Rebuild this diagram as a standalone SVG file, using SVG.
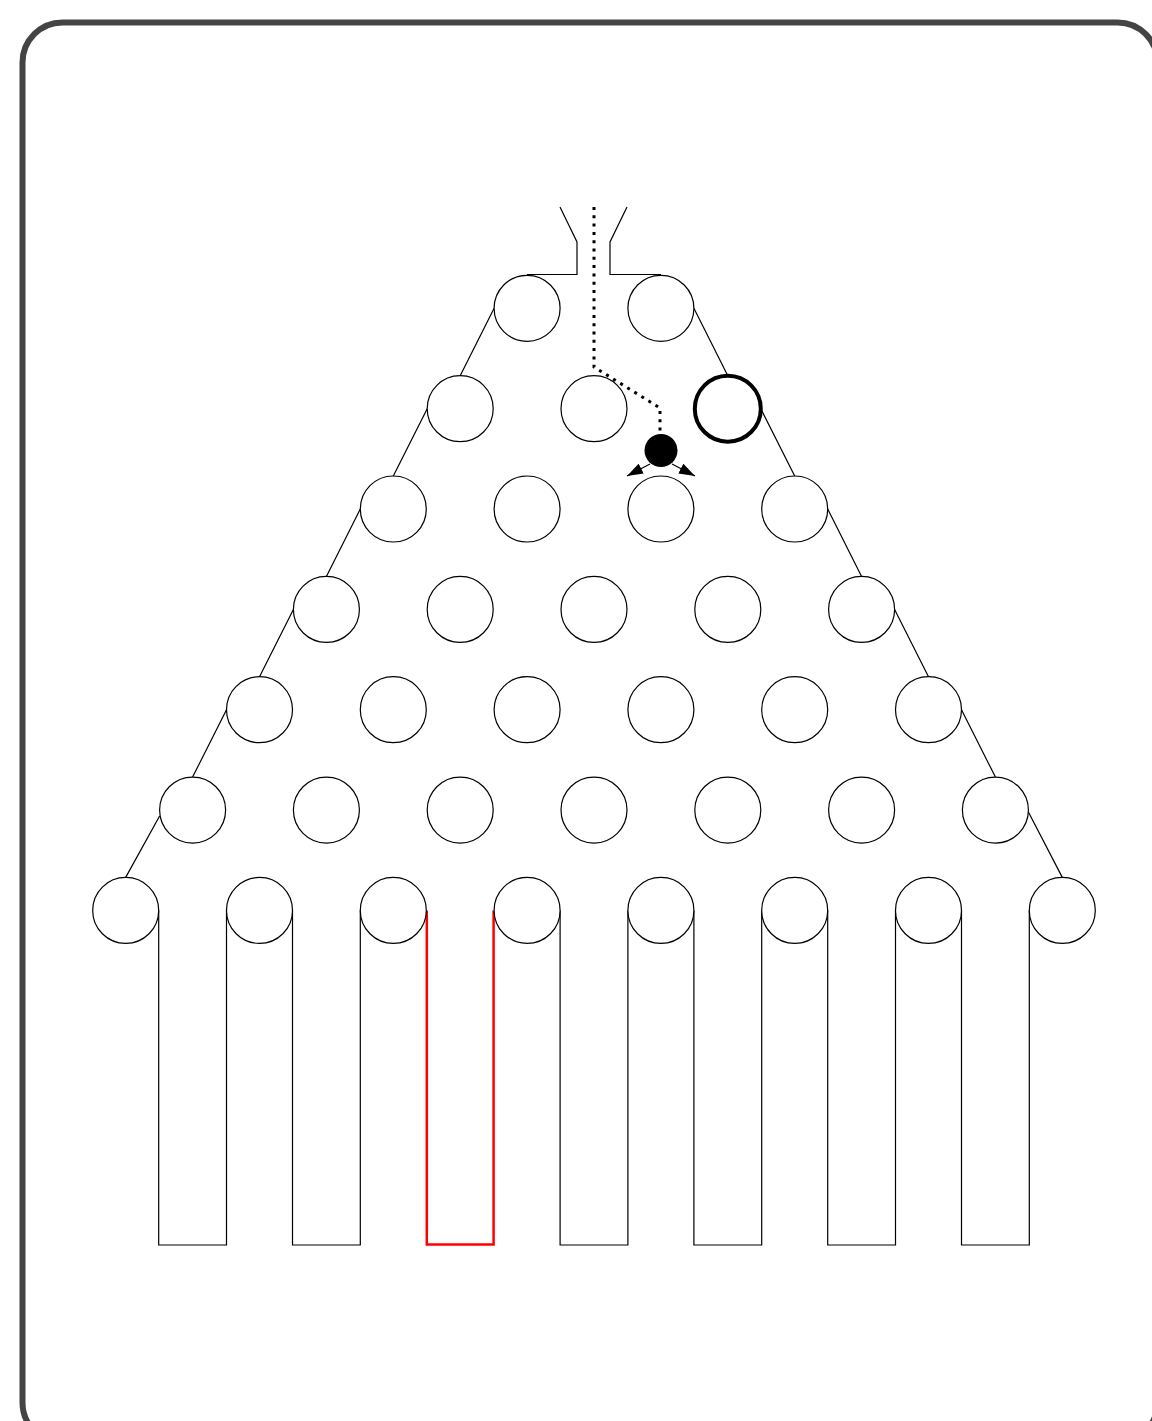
<svg xmlns="http://www.w3.org/2000/svg" width="1152" height="1421" viewBox="0 0 1152 1421">
<defs>
<style>
.peg{fill:#fff;stroke:#000;stroke-width:1.2}
.wall{fill:none;stroke:#000;stroke-width:1.2}
.bin{fill:none;stroke:#000;stroke-width:1.2}
.hi{fill:none;stroke:#f00;stroke-width:2.5}
</style>
<marker id="ah" viewBox="0 0 16 11" refX="16" refY="5.5" markerWidth="16" markerHeight="11" markerUnits="userSpaceOnUse" orient="auto">
<path d="M0,0 L16,5.5 L0,11 Z" fill="#000"/>
</marker>
</defs>
<rect x="0" y="0" width="1152" height="1421" fill="#fff"/>
<rect id="frame" x="22.5" y="22.5" width="1135" height="1420" rx="40" ry="40" fill="none" stroke="#444" stroke-width="6"/>
<g id="connectors">
<path class="wall" d="M560,207 L577,242 V274.5 H527"/>
<path class="wall" d="M627,207 L610,242 V274.5 H661"/>
<path class="wall" d="M494.1,308.3 L460.2,375.7 M427.2,408.7 L393.3,476 M360.3,509 L326.4,576.4 M293.4,609.4 L259.5,676.7 M226.5,709.7 L192.6,777.1 M159.6,816 L125.7,877.4"/>
<path class="wall" d="M693.9,308.3 L727.8,375.7 M760.8,408.7 L794.7,476 M827.7,509 L861.6,576.4 M894.6,609.4 L928.5,676.7 M961.5,709.7 L995.4,777.1 M1028.4,812 L1062.3,877.4"/>
<path class="bin" d="M158.7,910.4 V1245 H226.5 V910.4"/>
<path class="bin" d="M292.5,910.4 V1245 H360.3 V910.4"/>
<path class="hi" d="M426.8,910.4 V1244.5 H493.6 V910.4"/>
<path class="bin" d="M560.1,910.4 V1245 H627.9 V910.4"/>
<path class="bin" d="M693.9,910.4 V1245 H761.7 V910.4"/>
<path class="bin" d="M827.7,910.4 V1245 H895.5 V910.4"/>
<path class="bin" d="M961.5,910.4 V1245 H1029.3 V910.4"/>
<path id="trajectory" d="M594,207 V367 L660,408 V434" fill="none" stroke="#000" stroke-width="3" stroke-dasharray="3 5.3"/>
<line x1="650" y1="464" x2="627" y2="476" stroke="#000" stroke-width="1.2" marker-end="url(#ah)"/>
<line x1="672" y1="464" x2="695" y2="476" stroke="#000" stroke-width="1.2" marker-end="url(#ah)"/>
</g>
<g id="row1">
<circle class="peg" cx="527.1" cy="308.3" r="33"/>
<circle class="peg" cx="660.9" cy="308.3" r="33"/>
</g>
<g id="row2">
<circle class="peg" cx="460.2" cy="408.7" r="33"/>
<circle class="peg" cx="594" cy="408.7" r="33"/>
<circle id="hit-peg" cx="727.8" cy="408.7" r="33" fill="#fff" stroke="#000" stroke-width="4"/>
</g>
<g id="row3">
<circle class="peg" cx="393.3" cy="509" r="33"/>
<circle class="peg" cx="527.1" cy="509" r="33"/>
<circle class="peg" cx="660.9" cy="509" r="33"/>
<circle class="peg" cx="794.7" cy="509" r="33"/>
</g>
<g id="row4">
<circle class="peg" cx="326.4" cy="609.4" r="33"/>
<circle class="peg" cx="460.2" cy="609.4" r="33"/>
<circle class="peg" cx="594" cy="609.4" r="33"/>
<circle class="peg" cx="727.8" cy="609.4" r="33"/>
<circle class="peg" cx="861.6" cy="609.4" r="33"/>
</g>
<g id="row5">
<circle class="peg" cx="259.5" cy="709.7" r="33"/>
<circle class="peg" cx="393.3" cy="709.7" r="33"/>
<circle class="peg" cx="527.1" cy="709.7" r="33"/>
<circle class="peg" cx="660.9" cy="709.7" r="33"/>
<circle class="peg" cx="794.7" cy="709.7" r="33"/>
<circle class="peg" cx="928.5" cy="709.7" r="33"/>
</g>
<g id="row6">
<circle class="peg" cx="192.6" cy="810.1" r="33"/>
<circle class="peg" cx="326.4" cy="810.1" r="33"/>
<circle class="peg" cx="460.2" cy="810.1" r="33"/>
<circle class="peg" cx="594" cy="810.1" r="33"/>
<circle class="peg" cx="727.8" cy="810.1" r="33"/>
<circle class="peg" cx="861.6" cy="810.1" r="33"/>
<circle class="peg" cx="995.4" cy="810.1" r="33"/>
</g>
<g id="row7">
<circle class="peg" cx="125.7" cy="910.4" r="33"/>
<circle class="peg" cx="259.5" cy="910.4" r="33"/>
<circle class="peg" cx="393.3" cy="910.4" r="33"/>
<circle class="peg" cx="527.1" cy="910.4" r="33"/>
<circle class="peg" cx="660.9" cy="910.4" r="33"/>
<circle class="peg" cx="794.7" cy="910.4" r="33"/>
<circle class="peg" cx="928.5" cy="910.4" r="33"/>
<circle class="peg" cx="1062.3" cy="910.4" r="33"/>
</g>
<g id="ball">
<circle cx="661" cy="450.5" r="16.5" fill="#000"/>
</g>
</svg>
